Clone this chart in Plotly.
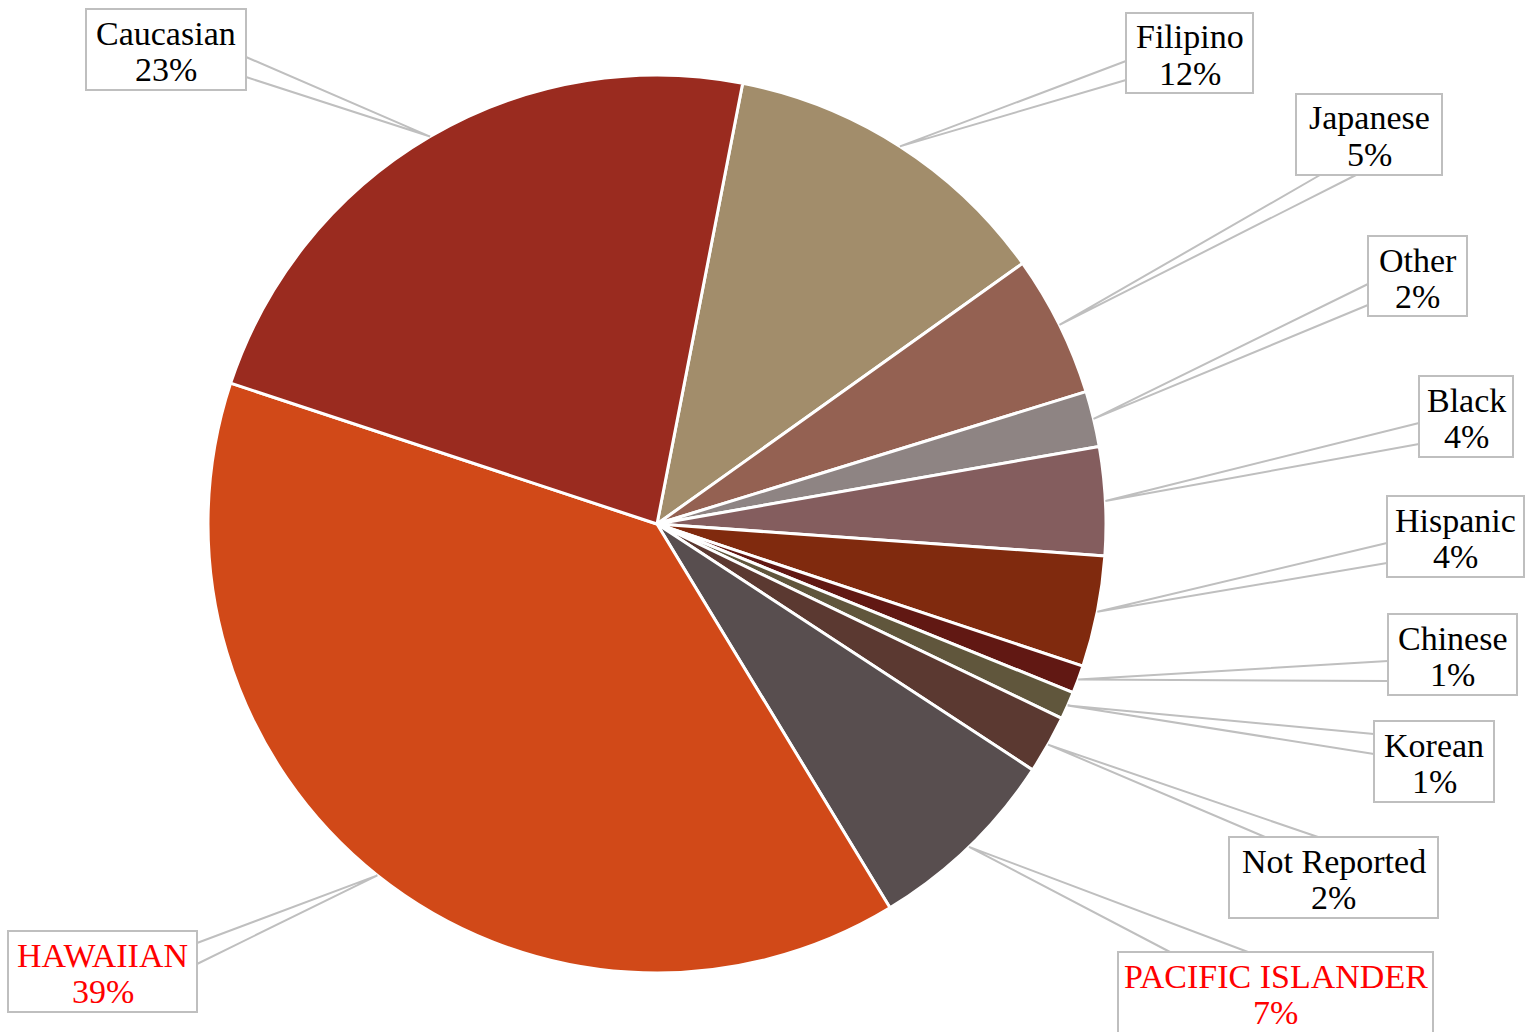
import math
import plotly.graph_objects as go

W, H = 1525, 1032

# slices, clockwise from the Caucasian/Filipino edge
groups = ["Filipino", "Japanese", "Other", "Black", "Hispanic", "Chinese",
          "Korean", "Not Reported", "PACIFIC ISLANDER", "HAWAIIAN", "Caucasian"]
shares = [12.1, 5.1, 2.0, 3.9, 4.0, 1.0, 1.0, 2.1, 7.1, 38.8, 23.0]
slice_colors = ["#A28D6B", "#946152", "#8E8483", "#845D5E", "#802A0E", "#611813",
                "#60563C", "#5B3931", "#584E4F", "#D14918", "#9A2B1F"]
highlighted = ["PACIFIC ISLANDER", "HAWAIIAN"]

# pie placement in screen pixels
CX, CY, R = 657, 524, 449
ROTATION = 11

# callout boxes (x0, y0, x1, y1) and the two points where the pointer leaves the box
callouts = {
    "Filipino": ((1126, 13, 1253, 93), ((1126, 61), (1126, 80))),
    "Japanese": ((1296, 94, 1442, 175), ((1320, 175), (1356, 175))),
    "Other": ((1368, 236, 1467, 316), ((1368, 284), (1368, 305))),
    "Black": ((1419, 376, 1513, 457), ((1419, 423), (1419, 444))),
    "Hispanic": ((1387, 496, 1524, 577), ((1387, 543), (1387, 563))),
    "Chinese": ((1388, 614, 1517, 695), ((1388, 661), (1388, 681))),
    "Korean": ((1374, 721, 1494, 802), ((1374, 734), (1374, 754))),
    "Not Reported": ((1229, 837, 1438, 918), ((1265, 837), (1318, 837))),
    "PACIFIC ISLANDER": ((1118, 952, 1433, 1033), ((1170, 952), (1248, 952))),
    "HAWAIIAN": ((8, 931, 197, 1012), ((197, 943), (197, 964))),
    "Caucasian": ((86, 9, 246, 90), ((246, 57), (246, 77))),
}

BORDER = "#BFBFBF"
FONT = "Liberation Serif"
FONT_SIZE = 34


def fx(x):
    return x / W


def fy(y):
    return 1 - y / H


fig = go.Figure()
fig.add_trace(go.Pie(
    labels=groups,
    values=shares,
    sort=False,
    direction="clockwise",
    rotation=ROTATION,
    textinfo="none",
    hoverinfo="label+percent",
    marker=dict(colors=slice_colors, line=dict(color="white", width=3)),
    domain=dict(x=[fx(CX - R), fx(CX + R)], y=[fy(CY + R), fy(CY - R)]),
    showlegend=False,
))

total = sum(shares)
shapes = []
annotations = []
cum = 0.0
for name, val in zip(groups, shares):
    mid = math.radians(ROTATION + 360 * (cum + val / 2) / total)
    cum += val
    ax = CX + R * math.sin(mid)
    ay = CY - R * math.cos(mid)
    (x0, y0, x1, y1), (p1, p2) = callouts[name]

    shapes.append(dict(
        type="path", xref="paper", yref="paper",
        path=f"M {fx(p1[0])},{fy(p1[1])} L {fx(ax)},{fy(ay)} L {fx(p2[0])},{fy(p2[1])}",
        line=dict(color=BORDER, width=2),
    ))
    shapes.append(dict(
        type="rect", xref="paper", yref="paper",
        x0=fx(x0), x1=fx(x1), y0=fy(y1), y1=fy(y0),
        line=dict(color=BORDER, width=2), fillcolor="white",
    ))

    color = "#FF0000" if name in highlighted else "#000000"
    pct = f"{round(val / total * 100)}%"
    xc = (x0 + x1) / 2
    for text, dy in ((name, 24), (pct, 60)):
        annotations.append(dict(
            text=text, xref="paper", yref="paper",
            x=fx(xc), y=fy(y0 + dy), xanchor="center", yanchor="middle",
            showarrow=False,
            font=dict(family=FONT, size=FONT_SIZE, color=color),
        ))

fig.update_layout(
    width=W,
    height=H,
    margin=dict(l=0, r=0, t=0, b=0),
    paper_bgcolor="white",
    plot_bgcolor="white",
    shapes=shapes,
    annotations=annotations,
)

fig.write_html("out.html", config={"displayModeBar": False},
               post_script="document.body.style.margin = '0';")
